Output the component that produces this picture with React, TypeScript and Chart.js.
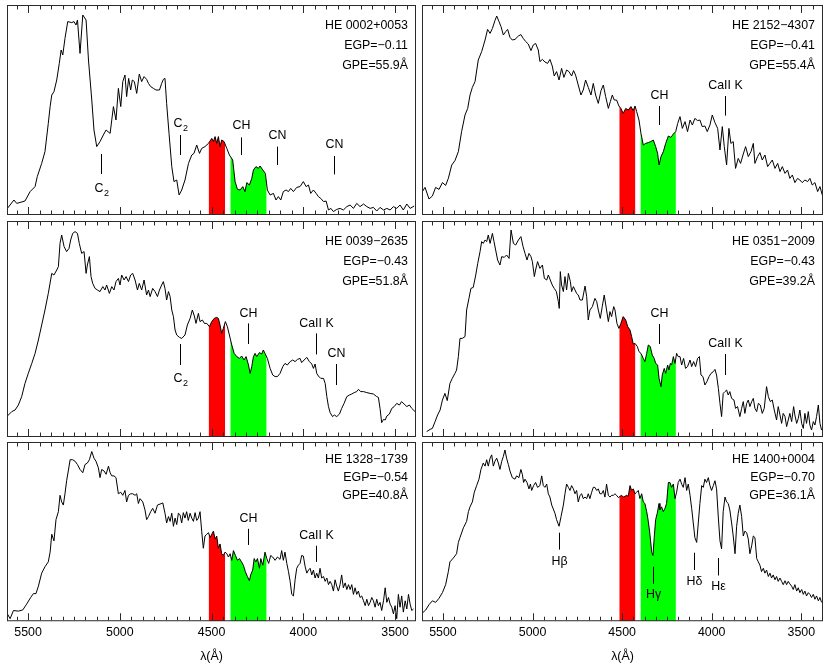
import React, { useEffect, useRef } from 'react';
import { Chart, registerables } from 'chart.js';

Chart.register(...registerables);

const FONT = '"Liberation Sans", Arial, Helvetica, sans-serif';

// ---------- axis ----------
const TICK_LABELS = [5500, 5000, 4500, 4000, 3500];
const MINOR_STEP = 62.5;
const RED_BAND = [4426, 4516];
const GREEN_BAND = [4200, 4398];

// ---------- star info ----------
const STAR_NAMES = ['HE 0002+0053', 'HE 2152\u22124307', 'HE 0039\u22122635', 'HE 0351\u22122009', 'HE 1328\u22121739', 'HE 1400+0004'];
const EGP_VALUES = ['\u22120.11', '\u22120.41', '\u22120.43', '\u22120.43', '\u22120.54', '\u22120.70'];
const GPE_VALUES = ['55.9', '55.4', '51.8', '39.2', '40.8', '36.1'];

// ---------- spectra (wavelength in Å, relative flux) ----------
const LAM_0002 = [5613,5577,5562,5517,5489,5462,5450,5426,5408,5390,5380,5371,5359,5344,5330,5320,5311,5299,5284,5262,5250,5239,5231,5217,5202,5184,5171,5153,5141,5126,5108,5090,5075,5053,5035,5021,5008,4995,4984,4972,4963,4952,4941,4932,4921,4908,4894,4881,4868,4854,4844,4832,4817,4803,4784,4772,4763,4754,4745,4732,4717,4705,4690,4677,4663,4645,4626,4608,4596,4581,4566,4554,4536,4517,4499,4490,4481,4472,4463,4454,4445,4432,4417,4403,4385,4372,4359,4345,4330,4318,4308,4294,4281,4272,4258,4245,4236,4221,4207,4196,4181,4163,4149,4136,4123,4109,4094,4081,4069,4054,4036,4018,4000,3985,3972,3960,3945,3930,3918,3905,3890,3876,3863,3850,3836,3818,3800,3782,3763,3745,3727,3709,3691,3672,3654,3636,3618,3600,3582,3563,3545,3527,3509,3491,3473,3455,3436,3418,3396];
const FLUX_0002 = [2.8,7,5.3,6.5,11.2,13.7,18.7,25.3,31.2,45.3,53.7,59.5,61.2,67,75.3,82,79.5,87.8,96.2,95.7,96.2,94.5,97,80.3,99.5,97,77,57,42,33.7,36.2,39.5,42,40.3,53.7,47,62.8,53.7,66.2,69.5,58.7,67.8,62,67,66.2,60.3,70,66.2,68.7,67.3,65.3,63.7,62.8,62,62,65.3,67.3,67.8,55.3,40.3,23.7,16.2,17,9.5,12,17,25.3,29.5,30.3,34.5,30.3,32.8,33.7,35.3,37.8,36.2,38.7,35.3,38.7,33.7,37,36.2,32.8,29.5,27,16.2,12.3,12,13.7,11.2,15.7,14.5,17.8,22,23.7,22.8,24,22,20.3,12,9.5,10.3,7,8.7,7,11.2,12,11.2,12.8,11.2,13.3,13.7,16.2,13.7,14.5,10.3,12,10.3,8.7,7.8,6.2,6.5,2,2.8,1.2,2.3,2.8,2,3.7,4.5,2.8,5.3,3.7,5,3.7,2.8,3.3,1.5,3.3,2,2.8,2,3.7,2.8,4.5,2,5,2.8,4];

const LAM_2152 = [5615,5600,5578,5559,5541,5522,5503,5485,5470,5451,5433,5414,5396,5377,5362,5349,5336,5321,5303,5284,5265,5251,5237,5224,5210,5200,5187,5176,5163,5150,5139,5126,5113,5098,5079,5065,5052,5038,5024,5009,4996,4983,4968,4959,4945,4931,4916,4903,4890,4879,4866,4852,4838,4825,4810,4797,4782,4771,4760,4745,4730,4717,4704,4689,4674,4661,4648,4633,4618,4605,4592,4577,4566,4555,4544,4531,4518,4507,4494,4480,4466,4451,4438,4428,4419,4406,4395,4382,4369,4354,4341,4326,4313,4302,4294,4283,4270,4257,4242,4228,4214,4201,4190,4177,4164,4149,4135,4121,4108,4094,4079,4066,4053,4038,4025,4010,3997,3982,3967,3954,3941,3930,3917,3904,3893,3880,3867,3852,3839,3824,3811,3796,3781,3768,3759,3744,3731,3718,3703,3688,3675,3662,3647,3632,3619,3606,3591,3577,3564,3550,3536,3521,3508,3495,3480,3465,3452,3439,3424,3409,3396,3383];
const FLUX_2152 = [11.2,13.3,7.5,9,13.3,12.3,15.7,14.3,17.8,24.5,26.7,31.2,41.2,49.5,52.8,59.5,63.3,66.2,77,81.2,87,92.3,90.3,92.8,96.7,99,96.2,93.7,89.5,91.2,92.3,88.3,87,87.3,89,89.7,87.8,86.2,85,81.7,84.5,85.3,82,76.2,77.3,76,75.3,77.3,74,69,71.2,67,72.8,68.3,72,71.2,69,71.7,69.5,64.5,59.5,62,67,63.3,59.5,65.3,59.5,55.3,61.7,64.5,58.7,52.8,56.2,59.5,57,57,54,52.8,50.3,52.8,52,53.7,51.7,54,51.2,47,40.3,34.5,35.3,35.7,36.2,37,33.7,30.3,24.5,28.7,31.2,35.3,39,38.3,40,41.2,45.3,48.7,42.8,46.2,41.2,47,44.5,47.8,46.7,47,43.7,44,41.2,44.5,49.5,45.7,42.8,32,43.7,33.7,24.5,42.8,35.3,36.2,22.8,27.8,25.3,30,33.7,28.7,31.2,35.3,25.3,28.7,30.7,27,29.5,23.7,25.3,27,22.8,25.3,21.2,23.7,20.3,22,17.8,19.5,15.7,17.8,17,15.7,17,16.2,17.8,14.5,15.7,11.2,13.7,9.5];

const LAM_0039 = [5613,5589,5571,5553,5535,5517,5499,5480,5462,5444,5426,5408,5390,5371,5359,5344,5335,5326,5317,5304,5290,5277,5268,5257,5244,5231,5221,5208,5195,5184,5177,5166,5157,5148,5135,5122,5108,5093,5081,5072,5057,5044,5032,5021,5008,4999,4990,4977,4966,4953,4941,4930,4917,4904,4894,4881,4868,4854,4844,4835,4821,4808,4795,4784,4772,4763,4754,4745,4735,4726,4717,4708,4699,4690,4675,4663,4645,4632,4617,4605,4594,4585,4572,4563,4550,4539,4526,4512,4499,4486,4472,4463,4454,4445,4436,4425,4414,4403,4390,4377,4363,4348,4336,4323,4312,4299,4290,4281,4272,4263,4254,4239,4227,4218,4209,4196,4181,4167,4154,4141,4127,4112,4100,4087,4072,4058,4045,4032,4018,4009,3996,3981,3967,3954,3945,3936,3927,3918,3905,3890,3881,3872,3863,3854,3841,3831,3818,3803,3791,3778,3763,3749,3736,3723,3709,3700,3687,3672,3654,3636,3618,3600,3591,3582,3573,3563,3554,3545,3531,3518,3505,3491,3476,3465,3451,3436,3422,3409,3391];
const FLUX_0039 = [10,12.2,13,15.5,19.7,26.3,31.3,36.3,41.3,48,55.5,63,71.3,81.3,80.5,83,84.7,96.3,100.5,94.7,92.2,93.8,98,101.3,102.2,101.3,96.3,91.3,92.2,81.3,85.5,89.7,79.7,76.3,73.8,73,72.2,74.7,73,75.5,71.3,74.7,73,77.2,78.8,75.5,80.5,78,79.7,77.2,80.5,81.3,78,73,76.3,73,78,70.5,73,69.7,73.8,72.2,69.7,73,75.5,77.2,73.8,68,72.2,69.7,63,59.7,53,50.5,49.3,48.8,50.5,55.5,58.8,63,60,56.3,61.3,57.2,58,56.3,56.3,54.7,57.2,58.8,59.3,58.8,55.5,51.3,53.8,57.2,54.7,50.5,45.5,41.3,39.7,38.8,40,38,39.7,35.5,31.3,34.7,39.7,41.3,39.7,41.7,41,43,41.3,38.8,33.8,30.5,29.7,29.7,31.3,34.7,36.3,35.5,37.2,38,37.2,38.3,38.8,36.7,38,39.3,37.2,36,33.8,36,31.3,30,28.8,28.8,26.3,19.7,14.7,11.7,9.7,10.5,9.7,11,13.8,16.3,19.7,20.5,21,21.7,22.2,23.3,22.2,22.2,21.7,21.3,21,19.7,19.3,13.8,6.7,8.3,8,10,11,13.8,14.7,16.3,15.5,17.2,16,14.7,15.5,13.8,12.2];

const LAM_0351 = [5591,5572,5559,5544,5530,5516,5503,5489,5476,5461,5448,5433,5424,5414,5405,5392,5377,5368,5355,5344,5331,5317,5306,5293,5284,5275,5265,5256,5247,5237,5224,5215,5206,5195,5182,5172,5158,5145,5131,5120,5107,5094,5079,5065,5053,5042,5031,5020,5009,5001,4990,4983,4972,4959,4945,4934,4921,4912,4901,4890,4879,4867,4856,4851,4845,4838,4828,4819,4810,4800,4789,4782,4772,4763,4754,4745,4735,4722,4707,4698,4689,4680,4666,4652,4642,4633,4622,4611,4600,4587,4577,4568,4559,4547,4540,4529,4518,4507,4494,4480,4469,4456,4447,4438,4428,4415,4406,4395,4382,4373,4363,4354,4343,4332,4321,4313,4302,4294,4283,4276,4265,4257,4246,4239,4231,4224,4214,4205,4196,4187,4177,4168,4157,4146,4135,4121,4112,4101,4090,4079,4069,4060,4049,4038,4027,4015,4004,3991,3982,3973,3963,3954,3945,3936,3926,3917,3908,3899,3889,3876,3867,3856,3843,3833,3824,3815,3805,3796,3787,3777,3768,3759,3749,3740,3729,3718,3707,3694,3684,3673,3662,3651,3638,3629,3619,3610,3601,3591,3582,3573,3564,3554,3543,3536,3526,3517,3508,3498,3489,3480,3471,3461,3452,3443,3433,3424,3415,3405,3396,3387];
const FLUX_0351 = [2.2,3.3,3.8,7.2,10.5,13,18,21.3,17.7,26.3,28.8,31.3,33,39.7,48.8,48.8,49.7,63,68.8,73.8,74.3,80.5,86.3,92.2,97.2,96.3,98,97.2,100.5,96.3,101.3,97.2,93,88,85.5,89.7,89.3,90.5,88.8,103,96.3,95.5,98,99.7,94.7,91.3,88,91.3,89.7,87.2,79.7,83,87.2,83.8,85.5,78.8,78,80.5,78,75.5,73.8,72.2,67.2,63.8,82.2,75.5,72.2,79.7,73,81.3,77.2,72.2,74.7,73,71.3,70.5,68,68,75,69.7,58,63,64.7,68.8,67.2,63,58.8,64.7,70.5,63,57.2,62.2,59.7,64.7,63,56.3,53.8,56.3,59.7,58,54.7,53,49.7,46,46.3,44.7,42.2,41.3,38.8,37.2,41.3,45.5,44.7,40.5,38.8,36.3,35.5,28.8,24.7,30.5,33.8,31.3,35.5,33,36.3,35.5,39.7,36.3,41.3,39.7,39.7,35.5,38.8,33.8,34.7,38,34.7,37.2,34.7,38.8,39.7,30.5,29.7,25.5,27.2,29.7,31.3,32.2,33.3,30.5,23.8,16.3,9.7,21.3,22.2,23,20.5,22.2,18.8,18,13.8,14.7,9.7,13.8,17.2,11.3,16.3,18,14.7,17.2,18.8,13.8,12.2,16.3,15.5,11.3,13.8,24.7,19.7,17.2,18,13,8,14.7,10.5,6.3,11.3,9.7,4.7,8,11.3,7.2,14.7,10.5,6.3,8.8,13,6.3,3.8,11.3,6.3,12.2,5.5,3,7.2,5.5,9.7,15.5,6.3,3];

const LAM_1328 = [5613,5598,5580,5553,5529,5508,5486,5471,5457,5444,5426,5408,5390,5380,5371,5359,5348,5335,5326,5317,5308,5299,5290,5281,5271,5257,5244,5231,5217,5202,5190,5177,5166,5153,5141,5130,5117,5108,5099,5086,5075,5062,5053,5044,5032,5021,5008,4995,4984,4972,4963,4953,4941,4930,4917,4908,4899,4890,4875,4863,4854,4844,4832,4821,4808,4795,4781,4766,4754,4745,4735,4726,4717,4708,4699,4690,4681,4672,4663,4654,4645,4636,4627,4617,4608,4599,4590,4581,4572,4563,4554,4545,4536,4526,4517,4508,4499,4490,4481,4472,4463,4454,4445,4436,4427,4417,4408,4399,4390,4381,4370,4359,4348,4337,4327,4316,4305,4294,4287,4276,4268,4259,4250,4239,4232,4221,4209,4199,4189,4178,4167,4154,4141,4127,4118,4109,4100,4090,4081,4072,4063,4054,4045,4036,4027,4018,4009,4000,3990,3981,3972,3963,3954,3945,3936,3927,3918,3909,3900,3890,3881,3872,3863,3854,3845,3836,3827,3818,3809,3800,3791,3782,3772,3763,3754,3745,3736,3727,3718,3709,3700,3691,3682,3672,3663,3654,3645,3636,3627,3618,3609,3600,3591,3582,3573,3563,3554,3545,3536,3527,3518,3509,3500,3491,3482,3473,3464,3455,3445,3436,3427,3418,3409,3400];
const FLUX_1328 = [3.8,1.3,5.5,5.2,5.8,8.8,12.2,14.2,14.2,18,24.7,28,30.5,35.5,44.7,41.3,52.2,56.3,64.7,61.3,59.7,65.5,72.2,77.2,83,83,82.2,80.5,78,76.3,80.5,81.3,83,87.2,83.8,82.2,78.8,73.8,78,77.2,75.5,79.7,76.3,74.7,74.7,73.8,65.5,66.3,64.7,67.2,61.3,64.7,65.5,65.5,64.7,65.5,60.5,63,61.3,57.2,52.2,53.8,56.3,58,55.5,59.7,60.2,60.8,55.5,50.5,53.8,51.3,55.5,48.8,53,49.7,55.5,54.7,50.5,55.8,53,56.3,51.8,55.5,53,51.3,55.8,51.8,53,56.3,46.3,37.5,43.8,44.7,45.5,43,44.7,46.3,42.2,43.8,37.5,39.7,34.7,33.8,35.5,34.7,33,34.7,31.3,36.3,33.8,31.3,32.2,30.5,28.8,25.5,23,20.8,23.8,26.3,32.2,30.5,32.2,27.2,32.2,28.8,35.5,32.2,29.7,33.8,33,31.3,33,31.8,36.3,31.3,35.5,29.7,25.5,20.5,13.8,13,21.3,27.2,28.8,29.7,33.8,33.5,28,24.7,26.3,27.2,23.8,26.3,22.2,24.7,22.2,27.2,22.2,23,20.5,22.2,18.8,20.5,18.8,15.5,21.3,18,15.5,18.8,23.8,17.2,19.7,16.3,18.8,16.3,18.8,13.8,17.2,13.8,15.5,12.2,13,10.5,8,11.3,8,9.7,12.2,10.5,7.2,11.3,8,9.7,5.5,10.5,17.2,9.7,12.2,8.8,7.2,3.8,8,1.3,13.8,7.2,13,4.7,10.5,6.3,13.8,8.8,5.5,6.3];

const LAM_1400 = [5615,5596,5578,5559,5541,5522,5503,5485,5470,5461,5442,5424,5414,5405,5386,5368,5358,5349,5336,5325,5312,5299,5288,5275,5265,5256,5247,5237,5228,5219,5210,5200,5191,5182,5172,5163,5154,5145,5135,5126,5113,5098,5089,5076,5065,5057,5050,5042,5031,5020,5012,5005,4994,4983,4972,4959,4949,4940,4931,4921,4912,4903,4893,4875,4866,4852,4841,4828,4819,4810,4800,4791,4782,4772,4763,4754,4745,4735,4726,4717,4707,4698,4689,4680,4670,4661,4652,4642,4633,4624,4614,4605,4596,4587,4577,4568,4559,4549,4540,4531,4521,4512,4503,4494,4484,4475,4466,4456,4447,4438,4428,4419,4410,4401,4391,4382,4373,4363,4354,4345,4335,4328,4321,4313,4304,4294,4289,4280,4270,4261,4252,4242,4233,4224,4214,4205,4196,4187,4177,4168,4159,4149,4140,4131,4121,4112,4103,4094,4084,4075,4066,4056,4047,4038,4029,4019,4010,4001,3991,3982,3973,3963,3954,3945,3936,3926,3917,3908,3899,3889,3880,3870,3861,3852,3843,3833,3824,3815,3805,3796,3787,3777,3768,3759,3749,3740,3731,3722,3712,3703,3694,3684,3675,3666,3657,3647,3638,3629,3619,3610,3601,3591,3582,3573,3564,3554,3545,3536,3526,3517,3508,3498,3489,3480,3471,3461,3452,3443,3433,3424,3415,3405,3396,3387];
const FLUX_1400 = [4.2,5.8,8.5,10.5,9.7,11.8,14.7,18.8,25.5,30.5,32.5,34.7,40.5,43,48,51.3,56.3,58.8,61.3,66.3,69.7,73,78,81.3,79.7,83,79.7,83.8,85.5,79.7,82.2,83.8,81.3,78,82.2,84.7,88,83.8,80.5,77.2,73.8,73,74.7,73.8,78,75.5,71.3,73,71.3,68,70.5,67.2,69.7,71.3,68.8,69.7,74.7,69.7,68.8,70.5,65.5,63.8,59.7,55.5,52.2,48.8,53.8,59.7,65.5,70.5,68.8,67.2,69.7,68,65.5,67.2,61.3,64.7,65.5,63,63.8,63,65.5,63,66.3,68.8,68.8,67.2,68,65.5,65.5,67.2,63.8,70.5,64.7,63.8,64.7,64.7,65.5,64.7,63.5,64.2,64.7,63.8,64.2,64.7,64.2,69.7,67.2,68,65.5,66.3,67.2,63,65.5,61.3,60.5,56.3,51.3,44.7,35.5,33.8,43,52.2,55.5,60.5,57.2,58.8,56.3,58,60.5,71.3,71.3,68.8,70.5,63,66.3,71.3,73,70.5,68.8,73.8,67.2,70.5,64.7,58,50.5,43,40.5,50.5,60.5,69.7,68.8,73,71.3,73.8,69.7,67.2,69.7,72.2,68,53,41.3,37.2,56.3,63.8,61.3,60.5,57.2,50.5,43.8,34.7,48.8,55.5,59.7,53.8,43.8,46.3,45.5,42.2,34.7,38.8,43.8,43,32.2,30.5,28.8,25.5,27.2,24.7,26.3,23,24.7,22.2,23.8,21.3,23,20.5,22.2,20.5,18.8,20.8,18.8,20.5,19.2,18,16.3,18.8,15.5,17.2,14.7,16.3,13.8,15.5,13,14.7,13.8,12.2,13.8,11.3,13,10.5,12.2,9.7];

// ---------- line identifications (wavelength, tick span, label height) ----------
type Ann = { lam: number; y1: number; y2: number; label: string; ly: number; sub?: string };
const LINES_0002: Ann[] = [
  { lam: 5102, y1: 20, y2: 30, label: 'C', sub: '2', ly: 12.5 },
  { lam: 4672, y1: 29.5, y2: 39.5, label: 'C', sub: '2', ly: 45 },
  { lam: 4341, y1: 29.5, y2: 38.3, label: 'CH', ly: 44.2 },
  { lam: 4145, y1: 24.5, y2: 33.7, label: 'CN', ly: 39.2 },
  { lam: 3832, y1: 19.8, y2: 29, label: 'CN', ly: 34.5 },
];
const LINES_2152: Ann[] = [
  { lam: 4294, y1: 44.5, y2: 54, label: 'CH', ly: 59 },
  { lam: 3926, y1: 49.2, y2: 59, label: 'CaII K', ly: 64 },
];
const LINES_0039: Ann[] = [
  { lam: 4672, y1: 35.5, y2: 46, label: 'C', sub: '2', ly: 28.5 },
  { lam: 4303, y1: 46, y2: 56.3, label: 'CH', ly: 61.3 },
  { lam: 3931, y1: 40.8, y2: 51.3, label: 'CaII K', ly: 56.3 },
  { lam: 3823, y1: 25.5, y2: 36, label: 'CN', ly: 41 },
];
const LINES_0351: Ann[] = [
  { lam: 4294, y1: 46, y2: 56, label: 'CH', ly: 61.3 },
  { lam: 3926, y1: 30.5, y2: 41, label: 'CaII K', ly: 46 },
];
const LINES_1328: Ann[] = [
  { lam: 4303, y1: 39.2, y2: 47.5, label: 'CH', ly: 52.5 },
  { lam: 3932, y1: 30.5, y2: 38.8, label: 'CaII K', ly: 43.8 },
];
const LINES_1400: Ann[] = [
  { lam: 4852, y1: 36.8, y2: 45.5, label: 'H\u03b2', ly: 30.8 },
  { lam: 4328, y1: 19.2, y2: 28, label: 'H\u03b3', ly: 13.5 },
  { lam: 4097, y1: 26.3, y2: 35.2, label: 'H\u03b4', ly: 20.5 },
  { lam: 3963, y1: 23.5, y2: 32.5, label: 'H\u03b5', ly: 18 },
];

// ---------- layout ----------
const COLS = [
  { left: 7, width: 409, xmin: 3386, xmax: 5615 },
  { left: 422, width: 401, xmin: 3379, xmax: 5617 },
];
const ROWS = [
  { top: 5, height: 210, ymin: -0.5, ymax: 104.5, axis: false, info: [21, 41, 61] },
  { top: 221, height: 216, ymin: -0.5, ymax: 107.5, axis: false, info: [21, 41, 61] },
  { top: 442, height: 222, ymin: 0, ymax: 92.1, axis: true, info: [18, 36, 54] },
];

const SPECTRA = [
  { lam: LAM_0002, flux: FLUX_0002, lines: LINES_0002 },
  { lam: LAM_2152, flux: FLUX_2152, lines: LINES_2152 },
  { lam: LAM_0039, flux: FLUX_0039, lines: LINES_0039 },
  { lam: LAM_0351, flux: FLUX_0351, lines: LINES_0351 },
  { lam: LAM_1328, flux: FLUX_1328, lines: LINES_1328 },
  { lam: LAM_1400, flux: FLUX_1400, lines: LINES_1400 },
];

function interp(lam: number[], flux: number[], v: number) {
  for (let i = 0; i < lam.length - 1; i++) {
    const a = lam[i], b = lam[i + 1];
    if ((a >= v && v >= b) || (a <= v && v <= b)) {
      const t = (v - a) / (b - a);
      return flux[i] + t * (flux[i + 1] - flux[i]);
    }
  }
  return 0;
}

function bandPoints(lam: number[], flux: number[], band: number[]) {
  const [lo, hi] = band;
  const pts: { x: number; y: number }[] = [{ x: hi, y: interp(lam, flux, hi) }];
  lam.forEach((l, i) => {
    if (l < hi && l > lo) pts.push({ x: l, y: flux[i] });
  });
  pts.push({ x: lo, y: interp(lam, flux, lo) });
  return pts;
}

function Panel({ idx }: { idx: number }) {
  const ref = useRef<HTMLCanvasElement>(null);
  const col = COLS[idx % 2];
  const row = ROWS[Math.floor(idx / 2)];
  const spec = SPECTRA[idx];

  useEffect(() => {
    const canvas = ref.current;
    if (!canvas) return;
    const data = spec.lam.map((x, i) => ({ x, y: spec.flux[i] }));

    const decor = {
      id: 'decor' + idx,
      afterDatasetsDraw(chart: any) {
        const { ctx, chartArea: a, scales } = chart;
        const xs = scales.x;
        const ys = scales.y;
        ctx.save();
        // frame
        ctx.strokeStyle = '#2a2a2a';
        ctx.lineWidth = 1;
        ctx.strokeRect(a.left + 0.5, a.top + 0.5, a.right - a.left - 1, a.bottom - a.top - 1);
        // tick marks (inside, top and bottom)
        ctx.beginPath();
        for (let v = 3375; v <= 5625; v += MINOR_STEP) {
          const px = Math.round(xs.getPixelForValue(v)) + 0.5;
          if (px < a.left + 2 || px > a.right - 2) continue;
          const len = v % 500 === 0 ? 7 : 3.5;
          ctx.moveTo(px, a.top + 1);
          ctx.lineTo(px, a.top + 1 + len);
          ctx.moveTo(px, a.bottom - 1);
          ctx.lineTo(px, a.bottom - 1 - len);
        }
        ctx.stroke();
        // line identifications
        ctx.strokeStyle = '#000';
        ctx.fillStyle = '#000';
        ctx.lineWidth = 1;
        ctx.textBaseline = 'middle';
        spec.lines.forEach((ln) => {
          const px = Math.round(xs.getPixelForValue(ln.lam)) + 0.5;
          ctx.beginPath();
          ctx.moveTo(px, ys.getPixelForValue(ln.y1));
          ctx.lineTo(px, ys.getPixelForValue(ln.y2));
          ctx.stroke();
          const ty = ys.getPixelForValue(ln.ly);
          ctx.font = `12.4px ${FONT}`;
          if (ln.sub) {
            const w1 = ctx.measureText(ln.label).width;
            ctx.font = `9px ${FONT}`;
            const w2 = ctx.measureText(ln.sub).width;
            const x0 = px - (w1 + w2) / 2;
            ctx.textAlign = 'left';
            ctx.font = `12.4px ${FONT}`;
            ctx.fillText(ln.label, x0, ty);
            ctx.font = `9px ${FONT}`;
            ctx.fillText(ln.sub, x0 + w1 + 0.5, ty + 4.5);
          } else {
            ctx.textAlign = 'center';
            ctx.fillText(ln.label, px, ty);
          }
        });
        // star info
        ctx.font = `12.4px ${FONT}`;
        ctx.textAlign = 'right';
        const tx = a.right - 8;
        ctx.fillText(STAR_NAMES[idx], tx, a.top + row.info[0]);
        ctx.fillText('EGP=' + EGP_VALUES[idx], tx, a.top + row.info[1]);
        ctx.fillText('GPE=' + GPE_VALUES[idx] + '\u00c5', tx, a.top + row.info[2]);
        ctx.restore();
      },
    };

    const chart = new Chart(canvas, {
      type: 'line',
      data: {
        datasets: [
          {
            data,
            borderColor: '#000',
            borderWidth: 1,
            borderJoinStyle: 'round',
            pointRadius: 0,
            fill: false,
            tension: 0,
          },
          {
            data: bandPoints(spec.lam, spec.flux, RED_BAND),
            borderWidth: 0,
            borderColor: 'rgba(0,0,0,0)',
            backgroundColor: '#ff0000',
            pointRadius: 0,
            fill: 'start',
            tension: 0,
          },
          {
            data: bandPoints(spec.lam, spec.flux, GREEN_BAND),
            borderWidth: 0,
            borderColor: 'rgba(0,0,0,0)',
            backgroundColor: '#00ff00',
            pointRadius: 0,
            fill: 'start',
            tension: 0,
          },
        ],
      },
      options: {
        responsive: false,
        maintainAspectRatio: false,
        animation: false,
        events: [],
        layout: { padding: 0 },
        plugins: {
          legend: { display: false },
          tooltip: { enabled: false },
          title: { display: false },
        },
        scales: {
          x: {
            type: 'linear',
            reverse: true,
            min: col.xmin,
            max: col.xmax,
            display: row.axis,
            afterBuildTicks: (axis: any) => {
              axis.ticks = TICK_LABELS.map((v) => ({ value: v }));
            },
            grid: { display: false, drawTicks: false },
            border: { display: false },
            ticks: {
              autoSkip: false,
              maxRotation: 0,
              padding: 4,
              color: '#000',
              font: { family: FONT, size: 12.4 },
              callback: (v: any) => String(v),
            },
            title: {
              display: true,
              text: '\u03bb(\u00c5)',
              color: '#000',
              font: { family: FONT, size: 12.4 },
              padding: { top: 5, bottom: 0 },
            },
          },
          y: { type: 'linear', display: false, min: row.ymin, max: row.ymax },
        },
      },
      plugins: [decor],
    } as any);
    return () => chart.destroy();
  }, [idx]);

  return (
    <canvas
      ref={ref}
      width={col.width}
      height={row.height}
      style={{ position: 'absolute', left: col.left, top: row.top, width: col.width, height: row.height, display: 'block' }}
    />
  );
}

export default function App() {
  return (
    <div style={{ position: 'absolute', left: 0, top: 0, width: 830, height: 664, background: '#fff', overflow: 'hidden' }}>
      {SPECTRA.map((_, i) => (
        <Panel key={i} idx={i} />
      ))}
    </div>
  );
}
